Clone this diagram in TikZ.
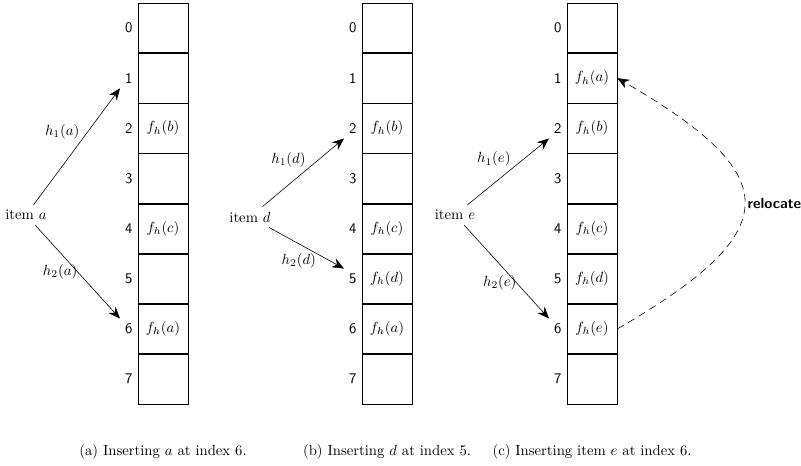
\documentclass[tikz,border=0pt]{standalone}
\usetikzlibrary{arrows.meta,positioning}

\begin{document}
\begin{tikzpicture}[
    x=0.68pt, y=-0.68pt,
    cell/.style={
        rectangle,
        draw=black,
        minimum width=34pt,
        minimum height=33.7pt,
        inner sep=0pt
    },
    idx/.style={
        font=\sffamily
    },
    hash/.style={-{Stealth[length=8pt,width=6.5pt]}},
    move/.style={-{Stealth[length=8pt,width=6.5pt]}, dash pattern=on 5pt off 3.5pt},
    subcap/.style={anchor=center}
]
\useasboundingbox (0,0) rectangle (801,465);

% table (a)
\node[cell] (a0) at (163,28) {};
\foreach \i/\txt [count=\j from 0] in {1/{},2/$f_h(b)$,3/{},4/$f_h(c)$,5/{},6/$f_h(a)$,7/{}}
    \node[cell, below=0pt of a\j] (a\i) {\txt};
\foreach \i in {0,...,7}
    \node[idx, left=0pt of a\i] (la\i) {\i};

\node (ia) at (26,215) {item $a$};
\draw[hash] (ia) -- (la1.south west) node[pos=0.55, above left, inner sep=1pt] {$h_1(a)$};
\draw[hash] (ia) -- (la6.north west) node[pos=0.5, left, inner sep=0pt] {$h_2(a)$};

% table (b)
\node[cell] (b0) at (387,28) {};
\foreach \i/\txt [count=\j from 0] in {1/{},2/$f_h(b)$,3/{},4/$f_h(c)$,5/$f_h(d)$,6/$f_h(a)$,7/{}}
    \node[cell, below=0pt of b\j] (b\i) {\txt};
\foreach \i in {0,...,7}
    \node[idx, left=0pt of b\i] (lb\i) {\i};

\node (id) at (250,217) {item $d$};
\draw[hash] (id) -- (lb2.south west) node[pos=0.55, above left, inner sep=1pt] {$h_1(d)$};
\draw[hash] (id) -- (lb5.north west) node[pos=0.63, below left, inner sep=0pt] {$h_2(d)$};

% table (c)
\node[cell] (c0) at (592,28) {};
\foreach \i/\txt [count=\j from 0] in {1/$f_h(a)$,2/$f_h(b)$,3/{},4/$f_h(c)$,5/$f_h(d)$,6/$f_h(e)$,7/{}}
    \node[cell, below=0pt of c\j] (c\i) {\txt};
\foreach \i in {0,...,7}
    \node[idx, left=0pt of c\i] (lc\i) {\i};

\node (ie) at (455,215) {item $e$};
\draw[hash] (ie) -- (lc2.south west) node[pos=0.55, above left, inner sep=1pt] {$h_1(e)$};
\draw[hash] (ie) -- (lc6.north west) node[pos=0.62, left, inner sep=0pt] {$h_2(e)$};

\draw[move] (c6.east) to[out=30, in=-30, looseness=2]
    node[pos=0.5, right, inner sep=2pt] {\sffamily\bfseries relocate} (c1.east);

\node[subcap] (capa) at (163,452) {(a) Inserting $a$ at index 6.};
\node[subcap] (capb) at (387,452) {(b) Inserting $d$ at index 5.};
\node[subcap] (capc) at (592,452) {(c) Inserting item $e$ at index 6.};

\end{tikzpicture}
\end{document}
